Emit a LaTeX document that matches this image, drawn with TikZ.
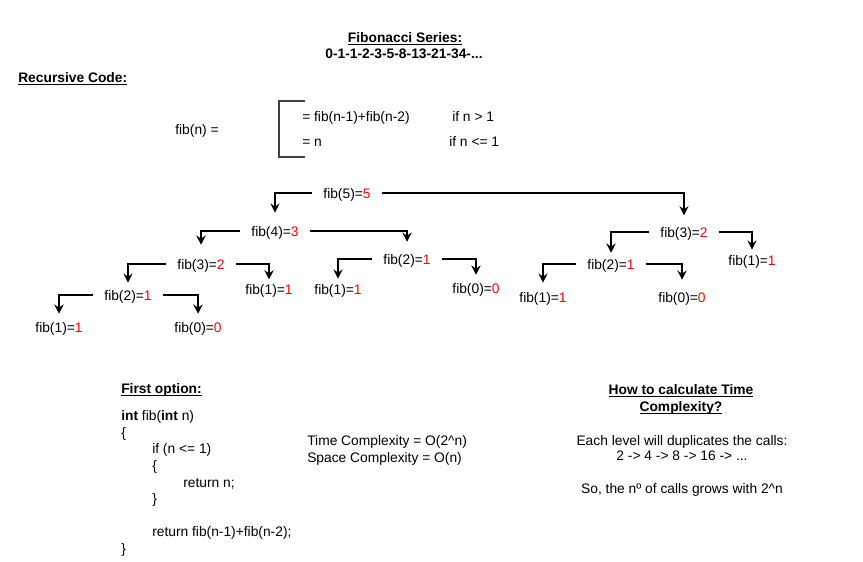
\documentclass[tikz,border=0pt]{standalone}
\usepackage{fontspec}
\setmainfont{Liberation Sans}
\usetikzlibrary{arrows.meta}
\definecolor{fibred}{HTML}{FF0000}
\newcommand{\rv}[1]{\textcolor{fibred}{#1}}
\newcommand{\myul}[1]{\setbox0\hbox{#1}\rlap{\vrule width\wd0 height -1.4pt depth 2.2pt}\box0}
\begin{document}
\begin{tikzpicture}[x=0.75pt,y=-0.75pt,
  every node/.style={font=\fontsize{10.35}{12.4}\selectfont, inner sep=0pt, text height=8.7pt, text depth=0.8pt},
  fibnode/.style={inner xsep=8pt, inner ysep=0pt},
  lbl/.style={anchor=west},
  ttl/.style={font=\fontsize{10.35}{12.4}\selectfont\bfseries},
  arr/.style={line width=0.8pt, -{Stealth[length=7pt,width=7pt,inset=2.5pt]}},
  brk/.style={line width=0.9pt, draw=black!75}]
\useasboundingbox (0,0) rectangle (863,561);

% titles
\node[ttl] (t1) at (405,37) {\myul{Fibonacci Series:}};
\node[ttl] (t2) at (404,53) {0-1-1-2-3-5-8-13-21-34-...};
\node[ttl,lbl] (rc) at (18,77) {\myul{Recursive Code:}};

% definition
\node (fn) at (197,129) {fib(n) =};
\draw[brk] (305,101) -- (279,101) -- (279,157) -- (305,157);
\node[lbl] (c1) at (302,116) {= fib(n-1)+fib(n-2)};
\node[lbl] (i1) at (452,116) {if n > 1};
\node[lbl] (c2) at (302,141) {= n};
\node[lbl] (i2) at (449,141) {if n <= 1};

% tree
\node[fibnode] (f5)  at (347,193) {fib(5)=\rv{5}};
\node[fibnode] (f4)  at (275,231) {fib(4)=\rv{3}};
\node[fibnode] (f3a) at (201,264) {fib(3)=\rv{2}};
\node[fibnode] (f2a) at (128,295) {fib(2)=\rv{1}};
\node[fibnode] (f1a) at (59,327)  {fib(1)=\rv{1}};
\node[fibnode] (f0a) at (198,327) {fib(0)=\rv{0}};
\node[fibnode] (f1b) at (269,289) {fib(1)=\rv{1}};
\node[fibnode] (f2m) at (407,259) {fib(2)=\rv{1}};
\node[fibnode] (f1m) at (338,289) {fib(1)=\rv{1}};
\node[fibnode] (f0m) at (476,288) {fib(0)=\rv{0}};
\node[fibnode] (f3r) at (684,232) {fib(3)=\rv{2}};
\node[fibnode] (f1r) at (752,260) {fib(1)=\rv{1}};
\node[fibnode] (f2r) at (611,264) {fib(2)=\rv{1}};
\node[fibnode] (f1s) at (543,297) {fib(1)=\rv{1}};
\node[fibnode] (f0s) at (682,297) {fib(0)=\rv{0}};

\draw[arr,shorten >=8.8pt] (f5) -| (f4);
\draw[arr,shorten >=7.5pt] (f5) -| (f3r);
\draw[arr,shorten >=9.5pt] (f4) -| (f3a);
\draw[arr,shorten >=8pt] (f4) -| (f2m);
\draw[arr,shorten >=4.3pt] (f3a) -| (f2a);
\draw[arr,shorten >=2.2pt] (f3a) -| (f1b);
\draw[arr,shorten >=5pt] (f2a) -| (f1a);
\draw[arr,shorten >=5pt] (f2a) -| (f0a);
\draw[arr,shorten >=2.8pt] (f2m) -| (f1m);
\draw[arr,shorten >=5pt] (f2m) -| (f0m);
\draw[arr,shorten >=3.5pt] (f3r) -| (f2r);
\draw[arr,shorten >=2.8pt] (f3r) -| (f1r);
\draw[arr,shorten >=5.8pt] (f2r) -| (f1s);
\draw[arr,shorten >=8pt] (f2r) -| (f0s);

% code
\node[ttl,lbl] (fo) at (121,388) {\myul{First option:}};
\node[lbl] (k1) at (121,415) {\textbf{int} fib(\textbf{int} n)};
\node[lbl] (k2) at (121,432) {\{};
\node[lbl] (k3) at (152,448) {if (n <= 1)};
\node[lbl] (k4) at (152,465) {\{};
\node[lbl] (k5) at (183,482) {return n;};
\node[lbl] (k6) at (152,498) {\}};
\node[lbl] (k7) at (152,531) {return fib(n-1)+fib(n-2);};
\node[lbl] (k8) at (121,548) {\}};

\node[lbl] (tc) at (307,440) {Time Complexity = O(2\textasciicircum n)};
\node[lbl] (sc) at (307,457) {Space Complexity = O(n)};

% how to
\node[ttl] (h1) at (681,389) {\myul{How to calculate Time}};
\node[ttl] (h2) at (681,406) {\myul{Complexity?}};
\node (e1) at (682,440) {Each level will duplicates the calls:};
\node (e2) at (682,455) {2 -> 4 -> 8 -> 16 -> ...};
\node (e3) at (682,488) {So, the nº of calls grows with 2\textasciicircum n};
\end{tikzpicture}
\end{document}
